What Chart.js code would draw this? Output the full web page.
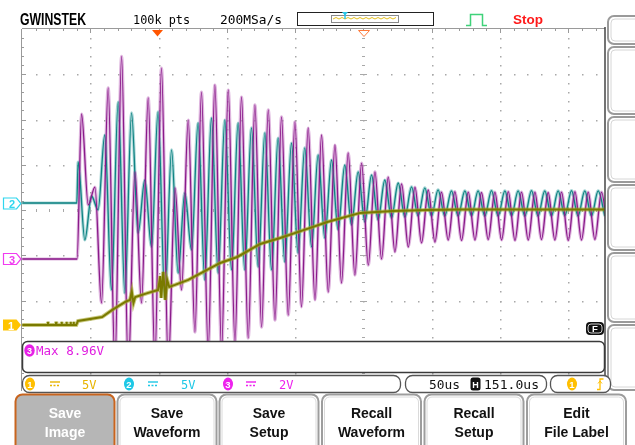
<!DOCTYPE html>
<html>
<head>
<meta charset="utf-8">
<script src="https://cdn.jsdelivr.net/npm/chart.js@4.4.1/dist/chart.umd.min.js"></script>
<style>
html, body { margin: 0; padding: 0; background: #fff; }
#wrap { position: relative; width: 635px; height: 445px; overflow: hidden; background: #fff; }
#scope { position: absolute; left: 20px; top: 27px; }
#ui { position: absolute; left: 0; top: 0; }
.mono { font-family: "DejaVu Sans Mono", monospace; }
.sans { font-family: "Liberation Sans", Arial, sans-serif; font-weight: bold; }
</style>
</head>
<body>
<div id="wrap">
<canvas id="scope" width="587" height="366"></canvas>
<svg id="ui" width="635" height="445" xmlns="http://www.w3.org/2000/svg">
  <!-- header -->
  <text x="20" y="24.5" class="sans" font-size="17" textLength="66" lengthAdjust="spacingAndGlyphs">GWINSTEK</text>
  <text x="133" y="24" class="mono" font-size="12" textLength="57" lengthAdjust="spacingAndGlyphs">100k pts</text>
  <text x="220" y="24" class="mono" font-size="12" textLength="62" lengthAdjust="spacingAndGlyphs">200MSa/s</text>
  <rect x="297.5" y="12.5" width="136" height="13" fill="#fff" stroke="#222"/>
  <rect x="331.5" y="15.5" width="67" height="7" fill="#fff" stroke="#8a8a8a"/>
  <polyline points="333,19 336,17.5 339,19 342,17.5 345,19 348,17.5 351,19 354,17.5 357,19 360,17.5 363,19 366,17.5 369,19 372,17.5 375,19 378,17.5 381,19 384,17.5 387,19 390,17.5 393,19 396,17.5" fill="none" stroke="#e6bf1c" stroke-width="1"/>
  <path d="M342,12 h6 l-3,3.5 z" fill="#2ac6e8"/>
  <line x1="345" y1="14" x2="345" y2="19" stroke="#2ac6e8" stroke-width="1.5"/>
  <path d="M466,25.5 H470.5 V14.5 H482.5 V25.5 H487" stroke="#3fd27a" stroke-width="1.5" fill="none"/>
  <text x="513" y="24" class="sans" font-size="13" fill="#ff1a1a" textLength="30" lengthAdjust="spacingAndGlyphs">Stop</text>

  <!-- trigger markers -->
  <path d="M152,30 H163 L157.5,36.5 Z" fill="#ff5500"/>
  <path d="M358.5,30.5 H369.5 L364,36.5 Z" fill="#fff" stroke="#ff7a3a"/>

  <!-- right side panel -->
  <line x1="605" y1="27" x2="605" y2="393" stroke="#444" stroke-width="1.5"/>
  <g fill="#fff" stroke="#9a9a9a" stroke-width="2">
    <rect x="608" y="16" width="40" height="28" rx="6"/>
    <rect x="608" y="47" width="40" height="67" rx="6"/>
    <rect x="608" y="117" width="40" height="65" rx="6"/>
    <rect x="608" y="185" width="40" height="65" rx="6"/>
    <rect x="608" y="253" width="40" height="69" rx="6"/>
    <rect x="608" y="325" width="40" height="65" rx="6"/>
  </g>
  <g fill="none" stroke="#d6d6d6" stroke-width="1">
    <rect x="611" y="19" width="40" height="22" rx="4"/>
    <rect x="611" y="50" width="40" height="61" rx="4"/>
    <rect x="611" y="120" width="40" height="59" rx="4"/>
    <rect x="611" y="188" width="40" height="59" rx="4"/>
    <rect x="611" y="256" width="40" height="63" rx="4"/>
    <rect x="611" y="328" width="40" height="59" rx="4"/>
  </g>

  <!-- channel ground markers -->
  <path d="M3.5,198 H16.5 L21,203.5 L16.5,209 H3.5 Z" fill="#fff" stroke="#2fd6ee" stroke-width="1.2"/>
  <text x="12" y="208" class="sans" font-size="11" fill="#2fd6ee" text-anchor="middle">2</text>
  <path d="M3.5,253.5 H16.5 L21,259 L16.5,264.5 H3.5 Z" fill="#fff" stroke="#f03cf0" stroke-width="1.2"/>
  <text x="12" y="263.5" class="sans" font-size="11" fill="#f03cf0" text-anchor="middle">3</text>
  <path d="M3,319.5 H16.5 L21,325 L16.5,330.5 H3 Z" fill="#ffc400"/>
  <text x="11" y="329.5" class="sans" font-size="11" fill="#fff" text-anchor="middle">1</text>

  <!-- F tag -->
  <rect x="586" y="322" width="18" height="13" rx="4" fill="#111"/>
  <rect x="588" y="324" width="14" height="9" rx="3" fill="none" stroke="#fff" stroke-width="0.8"/>
  <text x="595" y="332" class="sans" font-size="9.5" fill="#fff" text-anchor="middle">F</text>

  <!-- measurement box -->
  <rect x="22.5" y="341.5" width="582" height="31" rx="5" fill="#fff" stroke="#3a3a3a" stroke-width="1.5"/>
  <ellipse cx="29.5" cy="350.5" rx="5.2" ry="6.2" fill="#e620e6"/>
  <text x="29.5" y="354" class="sans" font-size="9" fill="#fff" text-anchor="middle">3</text>
  <text x="36" y="355" class="mono" font-size="12" fill="#e020e0" textLength="68" lengthAdjust="spacingAndGlyphs">Max 8.96V</text>

  <!-- status bar -->
  <g fill="#fff" stroke="#555" stroke-width="1.3">
    <rect x="22.5" y="375.5" width="378" height="17" rx="7"/>
    <rect x="405.5" y="375.5" width="141" height="17" rx="7"/>
    <rect x="550.5" y="375.5" width="60" height="17" rx="7"/>
  </g>
  <ellipse cx="30" cy="384" rx="5" ry="6.5" fill="#ffbf00"/>
  <text x="30" y="388" class="sans" font-size="9.5" fill="#fff" text-anchor="middle">1</text>
  <g stroke="#e8b400" stroke-width="1.4">
    <line x1="50" y1="382" x2="60" y2="382"/>
    <line x1="50" y1="385.5" x2="60" y2="385.5" stroke-dasharray="2,1.5"/>
  </g>
  <text x="82" y="389" class="mono" font-size="12" fill="#e8b400">5V</text>
  <ellipse cx="129" cy="384" rx="5" ry="6.5" fill="#1ec8e6"/>
  <text x="129" y="388" class="sans" font-size="9.5" fill="#fff" text-anchor="middle">2</text>
  <g stroke="#1ec8e6" stroke-width="1.4">
    <line x1="148" y1="382" x2="158" y2="382"/>
    <line x1="148" y1="385.5" x2="158" y2="385.5" stroke-dasharray="2,1.5"/>
  </g>
  <text x="181" y="389" class="mono" font-size="12" fill="#1ec8e6">5V</text>
  <ellipse cx="228" cy="384" rx="5" ry="6.5" fill="#ee22ee"/>
  <text x="228" y="388" class="sans" font-size="9.5" fill="#fff" text-anchor="middle">3</text>
  <g stroke="#ee22ee" stroke-width="1.4">
    <line x1="246" y1="382" x2="256" y2="382"/>
    <line x1="246" y1="385.5" x2="256" y2="385.5" stroke-dasharray="2,1.5"/>
  </g>
  <text x="279" y="389" class="mono" font-size="12" fill="#ee22ee">2V</text>
  <text x="429" y="389" class="mono" font-size="12" fill="#111" textLength="31" lengthAdjust="spacingAndGlyphs">50us</text>
  <rect x="470.5" y="377.5" width="10" height="13" rx="2.5" fill="#111"/>
  <text x="475.5" y="388" class="sans" font-size="9" fill="#fff" text-anchor="middle">H</text>
  <text x="484" y="389" class="mono" font-size="12" fill="#111" textLength="55" lengthAdjust="spacingAndGlyphs">151.0us</text>
  <ellipse cx="572" cy="384" rx="5" ry="6.5" fill="#ffbf00"/>
  <text x="572" y="388" class="sans" font-size="9.5" fill="#fff" text-anchor="middle">1</text>
  <path d="M597,389.5 H600 V379 H603.5" fill="none" stroke="#ffbf00" stroke-width="1.3"/>
  <path d="M598,383.5 L600,381 L602,383.5" fill="none" stroke="#ffbf00" stroke-width="1"/>

  <!-- soft keys -->
  <g stroke-width="2">
    <rect x="15.5" y="394.5" width="99" height="60" rx="7" fill="#b6b6b6" stroke="#c8641e"/>
    <rect x="117.5" y="394.5" width="99" height="60" rx="7" fill="#fff" stroke="#9d9d9d"/>
    <rect x="219.5" y="394.5" width="99" height="60" rx="7" fill="#fff" stroke="#9d9d9d"/>
    <rect x="322" y="394.5" width="99" height="60" rx="7" fill="#fff" stroke="#9d9d9d"/>
    <rect x="424.5" y="394.5" width="99" height="60" rx="7" fill="#fff" stroke="#9d9d9d"/>
    <rect x="527" y="394.5" width="99" height="60" rx="7" fill="#fff" stroke="#9d9d9d"/>
  </g>
  <g fill="none" stroke="#dadada" stroke-width="1">
    <rect x="120" y="397" width="94" height="55" rx="5"/>
    <rect x="222" y="397" width="94" height="55" rx="5"/>
    <rect x="324.5" y="397" width="94" height="55" rx="5"/>
    <rect x="427" y="397" width="94" height="55" rx="5"/>
    <rect x="529.5" y="397" width="94" height="55" rx="5"/>
  </g>
  <g class="sans" font-size="14" text-anchor="middle" fill="#111">
    <text x="65" y="418" fill="#fff">Save</text>
    <text x="65" y="437" fill="#fff">Image</text>
    <text x="167" y="418">Save</text>
    <text x="167" y="437">Waveform</text>
    <text x="269" y="418">Save</text>
    <text x="269" y="437">Setup</text>
    <text x="371.5" y="418">Recall</text>
    <text x="371.5" y="437">Waveform</text>
    <text x="474" y="418">Recall</text>
    <text x="474" y="437">Setup</text>
    <text x="576.5" y="418">Edit</text>
    <text x="576.5" y="437">File Label</text>
  </g>
</svg>
</div>
<script>
// time in us relative to trigger, values in volts
const ch1Time = [-98.8, -80.2, -80.0, -79.8, -74.2, -74.0, -73.8, -70.2, -70.0, -69.8, -66.6, -66.4, -66.2, -63.6, -63.4, -63.2, -61.4, -61.2, -61.0, -59.3, -58.0, -40.3, -32.9, -23.4, -20.0, -18.6, -17.4, -16.1, -6.6, 0.7, 2.2, 2.9, 4.4, 5.9, 7.3, 8.8, 13.0, 22.7, 33.7, 46.1, 58.6, 75.4, 90.0, 112.0, 124.5, 148.6, 172.8, 197.7, 221.8, 327.8];
const ch1Volts = [0, 0, 0.35, 0, 0, 0.35, 0, 0, 0.35, 0, 0, 0.35, 0, 0, 0.35, 0, 0, 0.35, 0, 0, 0.44, 0.88, 1.66, 2.54, 2.76, 3.65, 2.43, 3.09, 3.54, 3.87, 5.41, 2.98, 5.86, 2.76, 4.97, 4.20, 4.42, 4.97, 5.86, 6.85, 7.51, 8.95, 9.61, 10.72, 11.38, 12.38, 12.60, 12.71, 12.76, 12.76];

const ch2Time = [-98.8, -58.9, -57.9, -53.0, -48.1, -43.3, -38.4, -33.5, -28.6, -23.7, -18.8, -14.0, -9.1, -4.2, 0.6, 5.6, 10.5, 15.3, 20.2, 25.1, 29.9, 34.8, 39.7, 44.6, 49.5, 54.4, 59.2, 64.1, 69.0, 73.9, 78.8, 83.7, 88.5, 93.4, 98.3, 103.1, 108.0, 113.0, 117.8, 122.7, 127.6, 132.4, 137.3, 142.2, 147.1, 152.0, 156.9, 161.7, 166.6, 171.5, 176.4, 181.3, 186.2, 191.0, 195.9, 200.8, 205.6, 210.5, 215.4, 220.3, 225.2, 230.1, 234.9, 239.8, 244.7, 249.6, 254.5, 259.4, 264.2, 269.1, 274.0, 278.8, 283.7, 288.6, 293.5, 298.4, 303.3, 308.1, 313.0, 317.9, 322.8, 327.7];
const ch2Volts = [0, 0, 4.53, -4.09, 0.77, -0.77, 7.51, -9.61, 11.16, -9.95, 9.95, -3.32, 2.54, -4.86, 10.06, -10.50, 5.86, -7.74, 1.11, -5.19, 8.84, -8.51, 9.39, -7.74, 9.17, -7.40, 8.84, -7.40, 8.29, -7.07, 7.74, -7.40, 7.18, -6.52, 6.63, -5.53, 6.08, -4.86, 5.30, -3.87, 4.75, -2.98, 4.20, -2.43, 3.43, -2.10, 3.09, -1.88, 2.54, -1.66, 2.21, -1.55, 1.77, -1.44, 1.66, -1.44, 1.44, -1.44, 1.33, -1.44, 1.33, -1.40, 1.33, -1.44, 1.36, -1.44, 1.33, -1.40, 1.33, -1.44, 1.36, -1.44, 1.33, -1.44, 1.33, -1.40, 1.36, -1.44, 1.33, -1.44, 1.33, -1.44];

const ch3Time = [-98.8, -58.7, -55.4, -50.5, -45.6, -40.8, -35.9, -31.0, -26.1, -21.2, -16.3, -11.5, -6.6, -1.7, 3.1, 8.1, 13.0, 17.8, 22.7, 27.6, 32.4, 37.3, 42.2, 47.1, 52.0, 56.9, 61.7, 66.6, 71.5, 76.4, 81.3, 86.2, 91.0, 95.9, 100.8, 105.6, 110.5, 115.5, 120.3, 125.2, 130.1, 134.9, 139.8, 144.7, 149.6, 154.5, 159.4, 164.2, 169.1, 174.0, 178.9, 183.8, 188.7, 193.5, 198.4, 203.3, 208.1, 213.0, 217.9, 222.8, 227.7, 232.6, 237.4, 242.3, 247.2, 252.1, 257.0, 261.9, 266.7, 271.6, 276.5, 281.3, 286.2, 291.1, 296.0, 300.9, 305.8, 310.6, 315.5, 320.4, 325.3, 330.2];
const ch3Volts = [0, 0, 6.41, 2.39, 3.18, -1.94, 7.56, -4.69, 8.96, -4.90, 3.85, -1.94, 7.12, -4.46, 8.44, -4.69, 3.14, -1.37, 6.14, -3.23, 7.38, -4.02, 7.69, -4.02, 7.47, -3.67, 7.16, -3.49, 6.81, -3.01, 6.59, -2.70, 6.28, -2.48, 6.06, -2.12, 5.79, -1.81, 5.48, -1.46, 5.04, -1.06, 4.69, -0.71, 4.24, -0.27, 3.85, 0.00, 3.62, 0.31, 3.32, 0.53, 3.18, 0.71, 3.05, 0.75, 2.96, 0.84, 2.98, 0.82, 2.96, 0.84, 2.94, 0.86, 2.96, 0.84, 2.98, 0.82, 2.96, 0.84, 2.96, 0.86, 2.94, 0.84, 2.96, 0.82, 2.98, 0.84, 2.96, 0.86, 2.96, 0.84];

// scope settings: volts per division and ground level (in divisions from centre)
const voltsPerDiv = [5, 5, 2];
const groundDiv = [-2.54, 0.155, -1.083];
const usPerDiv = 50;
const gridStart = -99;   // time at left edge of the graticule
const xMax = 327.8;      // time where the side menu cuts the screen

function points(time, volts) {
    return time.map((t, i) => ({ x: t, y: volts[i] }));
}

function channelAxis(ch) {
    return {
        type: "linear",
        display: false,
        min: (-4 - groundDiv[ch]) * voltsPerDiv[ch],
        max: (4 - groundDiv[ch]) * voltsPerDiv[ch],
    };
}

const graticule = {
    id: "graticule",
    beforeDatasetsDraw(chart) {
        const { ctx, scales } = chart;
        const sx = scales.x;
        const sy = scales.yDiv;
        const top = Math.round(sy.getPixelForValue(4));
        const bottom = Math.round(sy.getPixelForValue(-4));
        const left = Math.round(sx.getPixelForValue(gridStart));
        const right = chart.chartArea.right;
        ctx.save();
        ctx.fillStyle = "#a8a8a8";
        for (let i = 1; gridStart + i * usPerDiv < xMax; i++) {
            const px = Math.round(sx.getPixelForValue(gridStart + i * usPerDiv));
            for (let j = 1; j < 40; j++) {
                const py = Math.round(sy.getPixelForValue(-4 + j * 0.2));
                if (i === 5) {
                    const w = j % 5 === 0 ? 7 : 3;
                    ctx.fillRect(px - (w - 1) / 2, py, w, 1);
                } else {
                    ctx.fillRect(px, py, 1.5, 1.5);
                }
            }
        }
        for (let d = -3; d <= 3; d++) {
            const py = Math.round(sy.getPixelForValue(d));
            for (let k = 1; gridStart + k * usPerDiv / 5 < xMax; k++) {
                const px = Math.round(sx.getPixelForValue(gridStart + k * usPerDiv / 5));
                if (d === 0) {
                    const h = k % 5 === 0 ? 7 : 3;
                    ctx.fillRect(px, py - (h - 1) / 2, 1, h);
                } else {
                    ctx.fillRect(px, py, 1.5, 1.5);
                }
            }
        }
        // left and top rulers
        ctx.fillStyle = "#9a9a9a";
        ctx.fillRect(left - 1, top, 1, bottom - top);
        ctx.fillRect(left, top - 1, right - left, 1);
        for (let k = 1; gridStart + k * usPerDiv / 5 < xMax; k++) {
            const px = Math.round(sx.getPixelForValue(gridStart + k * usPerDiv / 5));
            ctx.fillRect(px, top, 1, k % 5 === 0 ? 4 : 2);
        }
        for (let j = 1; j < 40; j++) {
            const py = Math.round(sy.getPixelForValue(-4 + j * 0.2));
            ctx.fillRect(left, py, j % 5 === 0 ? 4 : 2, 1);
        }
        ctx.restore();
    },
};

const ctx = document.getElementById("scope").getContext("2d");
const scopeChart = new Chart(ctx, {
    type: "line",
    data: {
        datasets: [
            { data: points(ch1Time, ch1Volts), yAxisID: "y1", borderColor: "#7a7a00", borderWidth: 2, order: 1 },
            { data: points(ch1Time, ch1Volts), yAxisID: "y1", borderColor: "rgba(165,165,40,0.6)", borderWidth: 4, order: 2 },
            { data: points(ch3Time, ch3Volts), yAxisID: "y3", borderColor: "#8a1a8a", borderWidth: 1.3, cubicInterpolationMode: "monotone", order: 3 },
            { data: points(ch2Time, ch2Volts), yAxisID: "y2", borderColor: "#0f8383", borderWidth: 1.3, cubicInterpolationMode: "monotone", order: 4 },
            { data: points(ch3Time, ch3Volts), yAxisID: "y3", borderColor: "rgba(195,120,195,0.55)", borderWidth: 3.2, cubicInterpolationMode: "monotone", order: 5 },
            { data: points(ch2Time, ch2Volts), yAxisID: "y2", borderColor: "rgba(100,182,182,0.55)", borderWidth: 3.2, cubicInterpolationMode: "monotone", order: 6 },
        ],
    },
    options: {
        responsive: false,
        animation: false,
        events: [],
        layout: { padding: { left: 2, right: 2, top: 2, bottom: 2 } },
        elements: { point: { radius: 0 }, line: { fill: false } },
        plugins: { legend: { display: false }, tooltip: { enabled: false } },
        scales: {
            x: { type: "linear", display: false, min: gridStart, max: xMax },
            yDiv: { type: "linear", display: false, min: -4, max: 4 },
            y1: channelAxis(0),
            y2: channelAxis(1),
            y3: channelAxis(2),
        },
    },
    plugins: [graticule],
});
</script>
</body>
</html>
